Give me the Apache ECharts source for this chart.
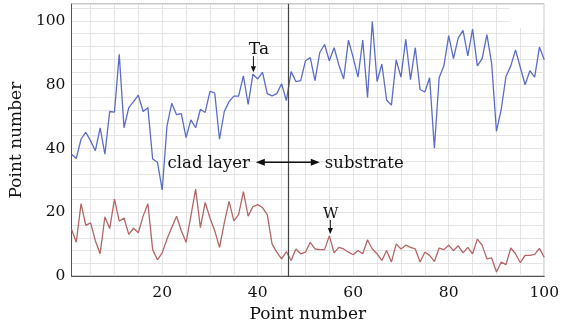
<!DOCTYPE html>
<html>
<head>
<meta charset="utf-8">
<script src="https://cdn.jsdelivr.net/npm/echarts@6/dist/echarts.min.js"></script>
<style>
html,body{margin:0;padding:0;background:#fff;}
#c{width:562px;height:328px;}
</style>
</head>
<body>
<div id="c"></div>
<script>
// Point numbers (x)
const pointNumbers = [1,2,3,4,5,6,7,8,9,10,11,12,13,14,15,16,17,18,19,20,
21,22,23,24,25,26,27,28,29,30,31,32,33,34,35,36,37,38,39,40,
41,42,43,44,45,46,47,48,49,50,51,52,53,54,55,56,57,58,59,60,
61,62,63,64,65,66,67,68,69,70,71,72,73,74,75,76,77,78,79,80,
81,82,83,84,85,86,87,88,89,90,91,92,93,94,95,96,97,98,99,100];

// Ta signal (in the plot's linear units)
const taValues = [38.2,36.9,42.9,45.1,42.4,39.3,46.5,38.2,51.6,51.4,
69.5,46.5,52.8,54.7,56.7,51.6,52.8,36.7,35.7,27.0,
47.0,54.2,50.6,50.9,43.4,49.0,46.5,52.3,51.3,57.9,
57.4,42.9,51.6,54.7,56.4,56.4,62.8,53.8,63.3,61.8,
63.9,57.2,56.5,57.2,60.3,55.0,64.1,61.0,61.3,67.5,
68.5,61.3,70.1,72.6,67.5,71.6,66.2,61.8,74.0,68.5,
62.4,74.0,56.0,79.8,61.0,66.5,55.2,53.6,67.8,62.4,
74.2,61.6,71.6,58.5,57.7,62.2,40.1,62.2,66.0,75.4,
68.2,74.7,77.0,69.0,77.4,65.9,68.2,75.7,66.5,45.4,
52.3,62.6,65.9,70.9,65.4,60.0,64.4,62.4,71.8,67.8];

// W signal
const wValues = [14.7,10.6,22.7,15.9,16.7,11.1,7.0,18.6,14.9,24.1,
17.2,18.2,13.1,15.0,13.6,18.8,22.7,8.3,5.1,7.3,
11.6,15.2,18.8,14.2,10.6,18.8,27.3,15.2,23.1,18.2,
14.2,9.0,16.7,23.4,17.3,19.3,26.5,18.8,21.8,22.4,
21.5,19.3,10.1,7.5,5.4,7.7,4.9,8.5,7.0,7.5,
10.6,8.5,8.3,8.3,12.6,7.3,9.0,8.5,7.5,6.7,
8.0,7.0,11.4,8.5,7.0,4.9,8.0,4.4,10.1,8.5,
9.7,9.0,8.5,4.4,7.5,6.5,4.6,8.8,8.3,9.7,
8.0,9.5,7.3,9.0,7.0,11.6,9.7,5.4,5.7,1.3,
4.4,3.6,8.8,7.0,4.2,6.5,6.5,6.8,8.7,5.9];

// Axis ticks / labels
const xLabelValues = [20,40,60,80,100];
const xGridValues = [5,10,15,20,25,30,35,40,45,50,55,60,65,70,75,80,85,90,95,100];
const yTickValues = [0,20,40,60,80];
const yTickLabels = ['0','20','40','80','100'];

// Annotations
const boundaryPoint = 46.3;
const taMarkPoint = 39;
const wMarkPoint = 55;
const annotationLevel = 35.7;
const leftText = 'clad layer';
const rightText = 'substrate';

const FONT = 'DejaVu Serif';
const chart = echarts.init(document.getElementById('c'), null, {renderer:'canvas'});

const taData = pointNumbers.map((x,i)=>[x, taValues[i]]);
const wData = pointNumbers.map((x,i)=>[x, wValues[i]]);

chart.setOption({
  animation:false,
  backgroundColor:'#ffffff',
  grid:{left:53, right:16, top:4, bottom:47, show:true, borderColor:'#8c8c8c', borderWidth:1, backgroundColor:'transparent'},
  xAxis:{
    type:'value', min:1, max:100,
    name:'Point number', nameLocation:'middle', nameGap:24,
    nameTextStyle:{fontFamily:FONT, fontSize:17, color:'#111'},
    axisLine:{show:true, lineStyle:{color:'#555', width:1}},
    axisTick:{show:false, customValues:xGridValues},
    axisLabel:{customValues:xLabelValues, fontFamily:FONT, fontSize:15.5, color:'#111', margin:9},
    splitLine:{show:true, lineStyle:{color:'#e4e4e4', width:1}}
  },
  yAxis:{
    type:'value', min:0, max:85.3, interval:4,
    name:'Point number', nameLocation:'middle', nameGap:30,
    nameTextStyle:{fontFamily:FONT, fontSize:17, color:'#111'},
    axisLine:{show:true, lineStyle:{color:'#555', width:1}},
    axisTick:{show:false},
    axisLabel:{fontFamily:FONT, fontSize:15.5, color:'#111', margin:6, padding:[0,0,5,0],
      formatter:function(v){ const k = yTickValues.indexOf(Math.round(v*100)/100); return k>=0 ? yTickLabels[k] : ''; }},
    splitLine:{show:true, lineStyle:{color:'#e4e4e4', width:1}}
  },
  series:[
    {type:'line', data:taData, symbol:'none', lineStyle:{color:'#5b6cc9', width:1.3}, z:3,
     markLine:{silent:true, symbol:['none','none'], label:{show:false},
       lineStyle:{color:'#444', width:1.2, type:'solid'}, data:[{xAxis:boundaryPoint}]}},
    {type:'line', data:wData, symbol:'none', lineStyle:{color:'#b56565', width:1.3}, z:3}
  ]
});

function arrowHead(tx, ty, dx, dy, len, half){
  const bx = tx - dx*len, by = ty - dy*len;
  const px = -dy, py = dx;
  return {type:'polygon', shape:{points:[[tx,ty],[bx+px*half,by+py*half],[bx-px*half,by-py*half]]}, style:{fill:'#111'}, z:10};
}

const g = [];
// white patch at top right
const tr = chart.convertToPixel({gridIndex:0},[100,85.3]);
g.push({type:'rect', shape:{x:tr[0]-35, y:tr[1]+1, width:34, height:23}, style:{fill:'#ffffff'}, z:1});

// Ta arrow
const pTa = chart.convertToPixel({gridIndex:0},[taMarkPoint, taValues[taMarkPoint-1]]);
g.push({type:'line', shape:{x1:pTa[0]+0.5, y1:pTa[1]-18, x2:pTa[0]+0.5, y2:pTa[1]-6}, style:{stroke:'#111', lineWidth:1}, z:10});
g.push(arrowHead(pTa[0]+0.5, pTa[1]-2, 0, 1, 6, 2.6));
g.push({type:'text', x:pTa[0]+6, y:pTa[1]-25, style:{text:'Ta', font:'17px "'+FONT+'"', fill:'#111', align:'center', verticalAlign:'middle'}, z:10});

// W arrow
const pW = chart.convertToPixel({gridIndex:0},[wMarkPoint, wValues[wMarkPoint-1]]);
g.push({type:'line', shape:{x1:pW[0]+1, y1:pW[1]-16, x2:pW[0]+1, y2:pW[1]-6}, style:{stroke:'#111', lineWidth:1}, z:10});
g.push(arrowHead(pW[0]+1, pW[1]-2, 0, 1, 6, 2.6));
g.push({type:'text', x:pW[0]+1.5, y:pW[1]-22, style:{text:'W', font:'15px "'+FONT+'"', fill:'#111', align:'center', verticalAlign:'middle'}, z:10});

// double arrow
const pB = chart.convertToPixel({gridIndex:0},[boundaryPoint, annotationLevel]);
const xa = pB[0]-32, xb = pB[0]+32, ya = pB[1];
g.push({type:'line', shape:{x1:xa+4, y1:ya, x2:xb-4, y2:ya}, style:{stroke:'#111', lineWidth:1.6}, z:10});
g.push(arrowHead(xa, ya, -1, 0, 9, 3.5));
g.push(arrowHead(xb, ya, 1, 0, 9, 3.5));
g.push({type:'text', x:xa-6, y:ya+1, style:{text:leftText, font:'16.5px "'+FONT+'"', fill:'#111', align:'right', verticalAlign:'middle'}, z:10});
g.push({type:'text', x:xb+5, y:ya+1, style:{text:rightText, font:'16.5px "'+FONT+'"', fill:'#111', align:'left', verticalAlign:'middle'}, z:10});

chart.setOption({graphic:g});
</script>
</body>
</html>
